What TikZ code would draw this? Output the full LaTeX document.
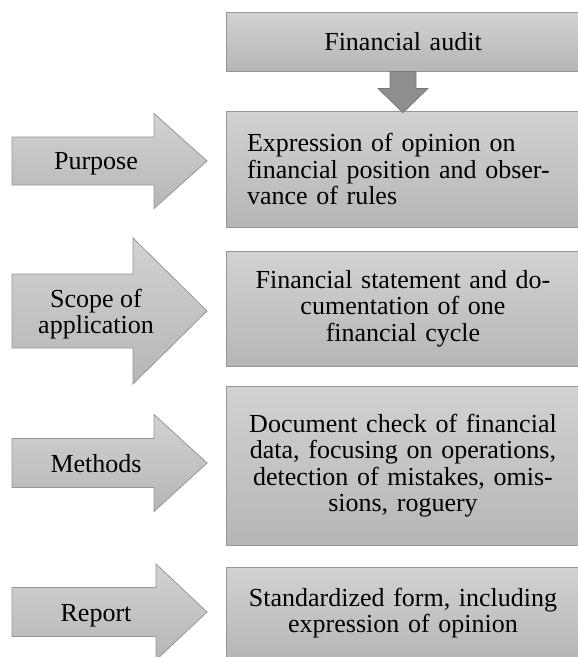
\documentclass[tikz,border=0pt]{standalone}
\usepackage{fontspec}
\setmainfont{Liberation Serif}
\usetikzlibrary{calc}
\definecolor{boxtop}{RGB}{210,210,210}
\definecolor{boxbot}{RGB}{182,182,182}
\definecolor{boxedge}{RGB}{150,150,150}
\definecolor{downfill}{RGB}{142,142,142}
\definecolor{downedge}{RGB}{118,118,118}

\begin{document}
\begin{tikzpicture}[x=1pt,y=-1pt,
    panel/.style={draw=boxedge,line width=0.8pt,top color=boxtop,bottom color=boxbot,
      minimum width=354pt,inner sep=0pt,text width=322pt,align=center,
      font=\fontsize{26}{26.5}\selectfont},
    tag/.style={inner sep=0pt,align=center,font=\fontsize{26}{26.5}\selectfont}]
        \useasboundingbox (0,0) rectangle (578,657);
        \clip (0,0) rectangle (578,657);
        \def\bx{403}
        % Right column: audit and its four fields
        \node[panel,minimum height=59pt] (audit) at (\bx,41.5) {Financial audit};
        \node[panel,minimum height=116pt,align=left,text width=312pt] (opinion) at (\bx,169)
          {Expression of opinion on\\financial position and obser-\\vance of rules};
        \node[panel,minimum height=115pt] (statement) at (\bx,308.5)
          {Financial statement and do-\\cumentation of one\\financial cycle};
        \node[panel,minimum height=159pt] (check) at (\bx,465.5)
          {Document check of financial\\data, focusing on operations,\\detection of mistakes, omis-\\sions, roguery};
        \node[panel,minimum height=92pt] (form) at (\bx,613)
          {Standardized form, including\\expression of opinion};
        % Down arrow
        \draw[downedge,fill=downfill,line width=0.8pt]
          ($(audit.south)+(-13,0)$) -- ($(audit.south)+(-13,17)$) -- ($(audit.south)+(-25,17)$)
          -- ($(opinion.north)+(0,2)$)
          -- ($(audit.south)+(25,17)$) -- ($(audit.south)+(13,17)$) -- ($(audit.south)+(13,0)$) -- cycle;
        % Left arrows: name/centre/body half/head half/head start/label y/label
        \foreach \n/\c/\bh/\hh/\hx/\ty/\txt in
            {purpose/161/24/47.5/154/164/Purpose,
             scope/311/37/73/133/314/{Scope of\\application},
             methods/463/24.5/48.5/154/464/Methods,
             report/612/24.5/48/156/616/Report} {
          \draw[boxedge,line width=0.8pt,top color=boxtop,bottom color=boxbot]
            (12,\c-\bh) -- (\hx,\c-\bh) -- (\hx,\c-\hh) -- (207,\c)
            -- (\hx,\c+\hh) -- (\hx,\c+\bh) -- (12,\c+\bh) -- cycle;
          \node[tag] (\n) at (96,\ty) {\txt};
        }
      \end{tikzpicture}
\end{document}
